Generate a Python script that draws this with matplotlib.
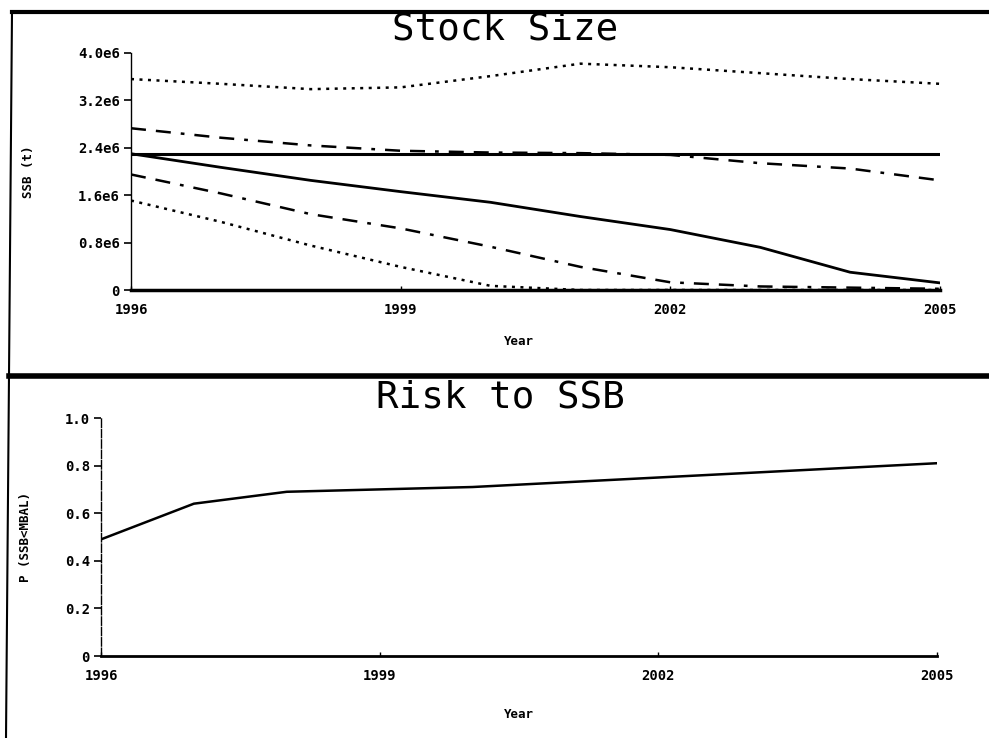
import numpy as np
import matplotlib
matplotlib.use("Agg")
import matplotlib.pyplot as plt
from matplotlib.lines import Line2D

# data
years = [1996, 1997, 1998, 1999, 2000, 2001, 2002, 2003, 2004, 2005]
year_ticks = [1996, 1999, 2002, 2005]

# stock size percentiles (tonnes)
ssb_p95 = [3.56e6, 3.48e6, 3.39e6, 3.42e6, 3.61e6, 3.82e6, 3.76e6, 3.66e6, 3.56e6, 3.48e6]
ssb_p75 = [2.73e6, 2.57e6, 2.44e6, 2.35e6, 2.32e6, 2.31e6, 2.28e6, 2.14e6, 2.05e6, 1.85e6]
ssb_p50 = [2.30e6, 2.07e6, 1.85e6, 1.66e6, 1.48e6, 1.24e6, 1.02e6, 0.72e6, 0.30e6, 0.12e6]
ssb_p25 = [1.95e6, 1.63e6, 1.28e6, 1.04e6, 0.73e6, 0.39e6, 0.13e6, 0.06e6, 0.04e6, 0.02e6]
ssb_p05 = [1.51e6, 1.15e6, 0.75e6, 0.39e6, 0.07e6, 0.0, 0.0, 0.0, 0.0, 0.0]
mbal = [2.30e6] * len(years)

ssb_ticks = [0, 0.8e6, 1.6e6, 2.4e6, 3.2e6, 4.0e6]
ssb_ticklabels = ["0", "0.8e6", "1.6e6", "2.4e6", "3.2e6", "4.0e6"]

# probability SSB below MBAL
risk = [0.49, 0.64, 0.69, 0.70, 0.71, 0.73, 0.75, 0.77, 0.79, 0.81]
risk_ticks = [0, 0.2, 0.4, 0.6, 0.8, 1.0]
risk_ticklabels = ["0", "0.2", "0.4", "0.6", "0.8", "1.0"]

W, H = 989, 738
fig = plt.figure(figsize=(W / 100, H / 100), dpi=100)
fig.patch.set_facecolor("white")

mono = "DejaVu Sans Mono"


def px(x0, y0, x1, y1):
    # pixel box -> figure fraction rect
    return [x0 / W, 1 - y1 / H, (x1 - x0) / W, (y1 - y0) / H]


def style_axes(ax):
    for s in ["top", "right"]:
        ax.spines[s].set_visible(False)
    ax.spines["left"].set_linewidth(1.0)
    ax.spines["bottom"].set_linewidth(2.5)
    ax.tick_params(axis="y", direction="out", length=5, width=1.2, pad=3,
                   labelsize=10)
    ax.tick_params(axis="x", direction="in", length=3, width=1.0, pad=9,
                   labelsize=10)
    for lab in ax.get_xticklabels() + ax.get_yticklabels():
        lab.set_family(mono)
        lab.set_fontweight("bold")


# Stock size panel
# ----------------
ax1 = fig.add_axes(px(131, 53, 940, 290))
dashdot = (0, (6, 4, 6, 4, 1.5, 4))
ax1.plot(years, ssb_p95, color="k", ls=(0, (1.2, 2.2)), lw=1.8)
ax1.plot(years, ssb_p75, color="k", ls=dashdot, lw=1.8)
ax1.plot(years, mbal, color="k", ls="-", lw=2.2)
ax1.plot(years, ssb_p50, color="k", ls="-", lw=2.0)
ax1.plot(years, ssb_p25, color="k", ls=dashdot, lw=1.8)
ax1.plot(years, ssb_p05, color="k", ls=(0, (1.2, 2.2)), lw=1.8)
ax1.set_xlim(1996, 2005)
ax1.set_ylim(0, 4.0e6)
ax1.set_xticks(year_ticks)
ax1.set_xticklabels([str(y) for y in year_ticks])
ax1.set_yticks(ssb_ticks)
ax1.set_yticklabels(ssb_ticklabels)
style_axes(ax1)
ax1.set_ylabel("SSB (t)", family=mono, fontweight="bold", fontsize=9)
ax1.yaxis.set_label_coords(-0.119, 0.5)
ax1.set_xlabel("Year", family=mono, fontweight="bold", fontsize=9)
ax1.xaxis.set_label_coords(0.48, -0.19)

# Risk panel
# ----------
ax2 = fig.add_axes(px(101, 418, 937, 656))
ax2.plot(years, risk, color="k", ls="-", lw=1.8)
ax2.set_xlim(1996, 2005)
ax2.set_ylim(0, 1.0)
ax2.set_xticks(year_ticks)
ax2.set_xticklabels([str(y) for y in year_ticks])
ax2.set_yticks(risk_ticks)
ax2.set_yticklabels(risk_ticklabels)
style_axes(ax2)
ax2.spines["bottom"].set_linewidth(2.0)
ax2.spines["left"].set_linestyle((0, (6, 1.5)))
ax2.set_ylabel("P (SSB<MBAL)", family=mono, fontweight="bold", fontsize=9)
ax2.yaxis.set_label_coords(-0.083, 0.5)
ax2.set_xlabel("Year", family=mono, fontweight="bold", fontsize=9)
ax2.xaxis.set_label_coords(0.5, -0.22)

# titles
fig.text(505 / W, 1 - 30 / H, "Stock Size", family=mono, fontsize=27,
         ha="center", va="center")
fig.text(500 / W, 1 - 397 / H, "Risk to SSB", family=mono, fontsize=27,
         ha="center", va="center")

# page frame lines
fig.add_artist(Line2D([12 / W, 1], [1 - 12 / H, 1 - 12 / H], color="k", lw=3.0))
fig.add_artist(Line2D([9 / W, 1], [1 - 376 / H, 1 - 376 / H], color="k", lw=4.0))
fig.add_artist(Line2D([12 / W, 6 / W], [1 - 12 / H, 0], color="k", lw=1.5))

plt.savefig("out.png", dpi=100, facecolor="white")
